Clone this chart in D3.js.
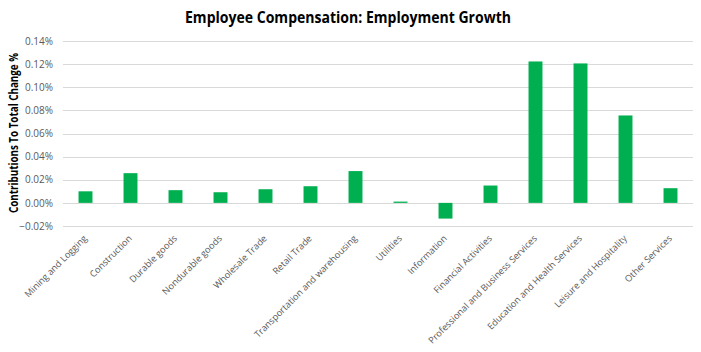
<!DOCTYPE html>
<html>
<head>
<meta charset="utf-8">
<script src="https://cdn.jsdelivr.net/npm/d3@7"></script>
<style>
body { margin: 0; background: #fff; }
svg { display: block; font-family: "Open Sans", "Liberation Sans", sans-serif; }
</style>
</head>
<body>
<div class="chart"></div>
<script>
var categories = ["Mining and Logging", "Construction", "Durable goods", "Nondurable goods",
    "Wholesale Trade", "Retail Trade", "Transportation and warehousing", "Utilities",
    "Information", "Financial Activities", "Professional and Business Services",
    "Education and Health Services", "Leisure and Hospitality", "Other Services"]
var values = [0.010, 0.0257, 0.011, 0.0092, 0.0118, 0.0144, 0.0275, 0.0011,
    -0.0136, 0.015, 0.1223, 0.1206, 0.0756, 0.0127]
var yTicks = [-0.02, 0, 0.02, 0.04, 0.06, 0.08, 0.10, 0.12, 0.14]

var width = 701, height = 352
var svg = d3.select(".chart").append("svg")
    .attr("width", width)
    .attr("height", height)

var x = d3.scaleBand()
    .domain(categories)
    .range([63, 693])
    .paddingInner(0.69)
    .paddingOuter(0.345)

var y = d3.scaleLinear()
    .domain([-0.02, 0.14])
    .range([226, 41])

// gridlines
svg.append("g")
    .selectAll("line")
    .data(yTicks).enter().append("line")
    .attr("x1", 63).attr("x2", 693)
    .attr("y1", function(d){ return Math.round(y(d)) + 0.5 })
    .attr("y2", function(d){ return Math.round(y(d)) + 0.5 })
    .attr("stroke", "#d9d9d9")
    .attr("stroke-width", 1)

// y axis labels
var yAxis = d3.axisLeft(y)
    .tickValues(yTicks)
    .tickSize(0)
    .tickPadding(0)
    .tickFormat(function(d){ return d3.format(".2f")(d) + "%" })

svg.append("g")
    .attr("class", "axis y")
    .attr("transform", "translate(53,0)")
    .call(yAxis)
    .call(function(g){ g.select(".domain").remove() })
    .selectAll("text")
    .attr("fill", "#595959")
    .style("font-size", "10px")
    .style("font-family", "'Open Sans', sans-serif")

// bars
svg.append("g")
    .selectAll("rect")
    .data(values).enter().append("rect")
    .attr("x", function(d, i){ return x(categories[i]) })
    .attr("width", x.bandwidth())
    .attr("y", function(d){ return y(Math.max(0, d)) })
    .attr("height", function(d){ return Math.abs(y(d) - y(0)) })
    .attr("fill", "#00b050")

// x labels
svg.append("g")
    .selectAll("text")
    .data(categories).enter().append("text")
    .attr("transform", function(d){
        return "translate(" + (x(d) + x.bandwidth() / 2 + 2) + ",239) rotate(-45)"
    })
    .attr("text-anchor", "end")
    .attr("fill", "#595959")
    .style("font-size", "9.2px")
    .text(function(d){ return d })

// title
svg.append("text")
    .attr("x", 348)
    .attr("y", 23)
    .attr("text-anchor", "middle")
    .style("font-size", "16px")
    .style("font-weight", "bold")
    .attr("fill", "#000")
    .attr("textLength", 326)
    .attr("lengthAdjust", "spacingAndGlyphs")
    .text("Employee Compensation: Employment Growth")

// y axis title
svg.append("text")
    .attr("transform", "translate(18,133) rotate(-90)")
    .attr("text-anchor", "middle")
    .style("font-size", "12px")
    .style("font-weight", "bold")
    .attr("fill", "#000")
    .attr("textLength", 160)
    .attr("lengthAdjust", "spacingAndGlyphs")
    .text("Contributions To Total Change %")
</script>
</body>
</html>
